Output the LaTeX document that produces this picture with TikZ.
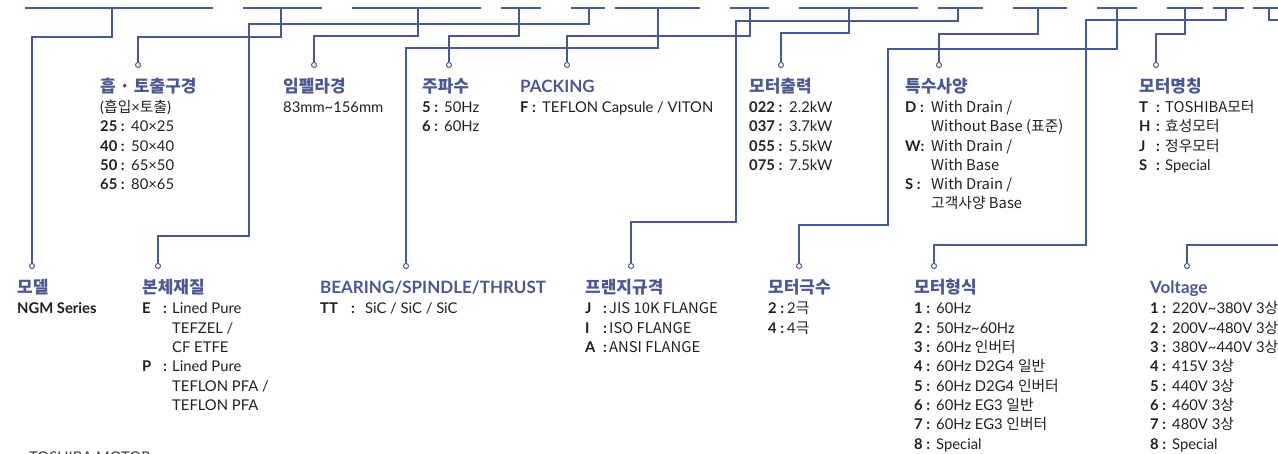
\documentclass[tikz,border=0pt]{standalone}
\usepackage{fontspec}
\setmainfont{Lato}
\newfontfamily\kr{Noto Sans CJK KR}
\definecolor{navy}{HTML}{4A5892}
\definecolor{ink}{HTML}{231F20}
\newcommand\lw{20pt}
\newcommand\lab[1]{\makebox[\lw][l]{\bfseries #1}}
\newcommand\labc[2]{\makebox[\lw][l]{\makebox[#1][l]{\bfseries #2}\bfseries :}}
\newcommand\block[5]{\renewcommand\lw{#4}\foreach \itm [count=\i] in {#5} {\node[txt] (#1-\i) at ({#2},{#3+(\i-1)*19.3}) {\itm};}}
\begin{document}
\begin{tikzpicture}[x=1pt,y=-1pt,
  wire/.style={draw=navy,line width=1.1pt},
  jdot/.style={circle,draw=navy,line width=1pt,fill=white,inner sep=0pt,minimum size=5pt},
  ttl/.style={anchor=base west,inner sep=0pt,text=navy,font=\fontsize{17}{20}\selectfont\bfseries},
  txt/.style={anchor=base west,inner sep=0pt,text=ink,font=\fontsize{14.8}{18}\selectfont}]
\useasboundingbox (0,0) rectangle (1278,454);
\fill[white] (0,0) rectangle (1278,454);
\clip (0,0) rectangle (1278,454);

% top segments
\foreach \a/\b [count=\k] in {25/213,243/322,352/481,501/541,571/605,615/700,730/769,799/918,938/983,1013/1067,1097/1137,1167/1203,1213/1244,1253/1290}
  {\coordinate (sa\k) at (\a,8); \coordinate (sb\k) at (\b,8); \draw[wire] (sa\k) -- (sb\k);}
\foreach \x [count=\k] in {112,281,418,519,589,658,750,849,958,1038,1117,1185,1226,1269}
  {\coordinate (d\k) at (\x,8);}

% connector dots
\node[jdot] (c-hub) at (138,65) {};
\node[jdot] (c-imp) at (314,65) {};
\node[jdot] (c-freq) at (449,65) {};
\node[jdot] (c-pack) at (567,65) {};
\node[jdot] (c-kw) at (781,65) {};
\node[jdot] (c-spec) at (939,65) {};
\node[jdot] (c-mname) at (1156,65) {};
\node[jdot] (c-model) at (32,266) {};
\node[jdot] (c-body) at (158,266) {};
\node[jdot] (c-bear) at (406,266) {};
\node[jdot] (c-flange) at (631,266) {};
\node[jdot] (c-pole) at (799,266) {};
\node[jdot] (c-mtype) at (934,266) {};
\node[jdot] (c-volt) at (1187,266) {};
\coordinate (e14) at (1285,20);
\coordinate (e15) at (1285,245);

% connectors
\draw[wire] (d1) -- ++(0,29) -| (c-model);
\draw[wire] (d2) -- ++(0,29) -| (c-hub);
\draw[wire] (d3) -- ++(0,28) -| (c-imp);
\draw[wire] (d4) -- ++(0,28) -| (c-freq);
\draw[wire] (d5) -- ++(0,16) -- ++(-340,0) -- ++(0,212) -| (c-body);
\draw[wire] (d6) -- ++(0,40) -| (c-bear);
\draw[wire] (d7) -- ++(0,28) -| (c-pack);
\draw[wire] (d8) -- ++(0,25) -| (c-kw);
\draw[wire] (d9) -- ++(0,13) -- ++(-222,0) -- ++(0,201) -| (c-flange);
\draw[wire] (d10) -- ++(0,26) -| (c-spec);
\draw[wire] (d11) -- ++(0,41) -- ++(-229,0) -- ++(0,176) -| (c-pole);
\draw[wire] (d12) -- ++(0,26) -| (c-mname);
\draw[wire] (d13) -- ++(0,12) -- ++(-140,0) -- ++(0,225) -| (c-mtype);
\draw[wire] (d14) -- ++(0,12) -- (e14);
\draw[wire] (e15) -| (c-volt);

% titles
\node[ttl] (t-hub) at (100,93) {\kr 흡 · 토출구경};
\node[ttl] (t-imp) at (283,93) {\kr 임펠라경};
\node[ttl] (t-freq) at (422,93) {\kr 주파수};
\node[ttl] (t-pack) at (520,93) {PACKING};
\node[ttl] (t-kw) at (749,93) {\kr 모터출력};
\node[ttl] (t-spec) at (905,93) {\kr 특수사양};
\node[ttl] (t-mname) at (1139,93) {\kr 모터명칭};
\node[ttl] (t-model) at (17,294) {\kr 모델};
\node[ttl] (t-body) at (142,294) {\kr 본체재질};
\node[ttl] (t-bear) at (320,294) {BEARING/SPINDLE/THRUST};
\node[ttl] (t-flange) at (585,294) {\kr 프랜지규격};
\node[ttl] (t-pole) at (768,294) {\kr 모터극수};
\node[ttl] (t-mtype) at (914,294) {\kr 모터형식};
\node[ttl] (t-volt) at (1150,294) {Voltage};

% bodies
\block{b-hub}{100}{112.5}{31pt}{{({\kr 흡입}×{\kr 토출})},{\lab{25 :}40×25},{\lab{40 :}50×40},{\lab{50 :}65×50},{\lab{65 :}80×65}}
\block{b-imp}{283}{112.5}{0pt}{{83mm\textasciitilde156mm}}
\block{b-freq}{422}{112.5}{22pt}{{\lab{5 :}50Hz},{\lab{6 :}60Hz}}
\block{b-pack}{520}{112.5}{22pt}{{\lab{F :}TEFLON Capsule / VITON}}
\block{b-kw}{749}{112.5}{40pt}{{\lab{022 :}2.2kW},{\lab{037 :}3.7kW},{\lab{055 :}5.5kW},{\lab{075 :}7.5kW}}
\block{b-spec}{905}{112.5}{26pt}{{\lab{D :}{\kr With Drain /}},{\lab{}{\kr Without Base (표준)}},{\lab{W:}{\kr With Drain /}},{\lab{}{\kr With Base}},{\lab{S :}{\kr With Drain /}},{\lab{}{\kr 고객사양 Base}}}
\block{b-mname}{1139}{112.5}{26pt}{{\labc{17pt}{T}{\kr TOSHIBA모터}},{\labc{17pt}{H}{\kr 효성모터}},{\labc{17pt}{J}{\kr 정우모터}},{\labc{17pt}{S}Special}}

\block{b-model}{17}{314}{0pt}{{\bfseries NGM Series}}
\block{b-body}{142}{314}{30pt}{{\labc{21pt}{E}Lined Pure},{\lab{}TEFZEL /},{\lab{}CF ETFE},{\labc{21pt}{P}Lined Pure},{\lab{}TEFLON PFA /},{\lab{}TEFLON PFA}}
\block{b-bear}{320}{314}{45pt}{{\labc{31pt}{TT}SiC / SiC / SiC}}
\block{b-flange}{585}{314}{24pt}{{\labc{18pt}{J}{\kr JIS 10K FLANGE}},{\labc{18pt}{I}{\kr ISO FLANGE}},{\labc{18pt}{A}{\kr ANSI FLANGE}}}
\block{b-pole}{768}{314}{19pt}{{\lab{2 :}2{\kr 극}},{\lab{4 :}4{\kr 극}}}
\block{b-mtype}{914}{314}{22pt}{{\lab{1 :}60Hz},{\lab{2 :}50Hz\textasciitilde60Hz},{\lab{3 :}60Hz {\kr 인버터}},{\lab{4 :}60Hz D2G4 {\kr 일반}},{\lab{5 :}60Hz D2G4 {\kr 인버터}},{\lab{6 :}60Hz EG3 {\kr 일반}},{\lab{7 :}60Hz EG3 {\kr 인버터}},{\lab{8 :}Special}}
\block{b-volt}{1150}{314}{22pt}{{\lab{1 :}220V\textasciitilde380V 3{\kr 상}},{\lab{2 :}200V\textasciitilde480V 3{\kr 상}},{\lab{3 :}380V\textasciitilde440V 3{\kr 상}},{\lab{4 :}415V 3{\kr 상}},{\lab{5 :}440V 3{\kr 상}},{\lab{6 :}460V 3{\kr 상}},{\lab{7 :}480V 3{\kr 상}},{\lab{8 :}Special}}

\node[txt,text=ink!85] (foot) at (29,462) {TOSHIBA MOTOR};
\end{tikzpicture}
\end{document}
